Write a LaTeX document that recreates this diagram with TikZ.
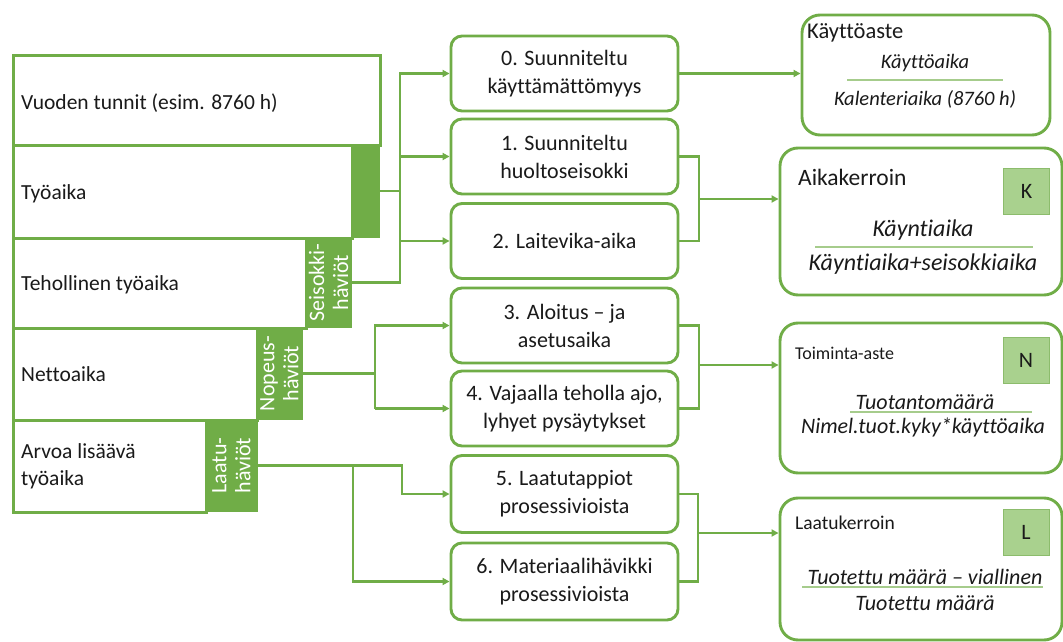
\documentclass[tikz,border=0pt]{standalone}
\usepackage{fontspec}
\setmainfont{Carlito}[Ligatures={TeX,NoCommon}]
\usetikzlibrary{arrows.meta}
\definecolor{lgreen}{HTML}{70AD47}
\definecolor{pgreen}{HTML}{A9D18E}
\definecolor{pgreenline}{HTML}{8CBC6C}
\definecolor{fracgreen}{HTML}{A6CC8C}
\definecolor{txt}{HTML}{1A1A1A}

\begin{document}
\begin{tikzpicture}[x=1pt,y=-1pt,
  wire/.style={draw=lgreen, line width=2.9pt, line join=miter},
  arr/.style={wire, -{Triangle[length=7pt,width=7pt]}},
  lbox/.style={draw=lgreen, line width=2.9pt, fill=white, anchor=north west, inner sep=0pt},
  blk/.style={fill=lgreen, draw=lgreen, line width=1pt, anchor=north west, inner sep=0pt},
  ltext/.style={anchor=west, align=left, text=txt, inner sep=0pt, font=\fontsize{21.5}{27}\selectfont},
  rot/.style={rotate=90, align=center, text=white, inner sep=0pt, font=\fontsize{22}{24}\selectfont},
  mbox/.style={draw=lgreen, line width=2.9pt, fill=white, rounded corners=11pt,
    minimum width=227pt, minimum height=75pt, align=center, text=txt, inner sep=0pt,
    font=\fontsize{22}{28}\selectfont},
  rbox/.style={draw=lgreen, line width=2.9pt, fill=white, rounded corners=18pt, inner sep=0pt},
  rtitle/.style={anchor=west, text=txt, inner sep=0pt},
  frac/.style={text=txt, inner sep=0pt, font=\itshape\fontsize{22}{26}\selectfont},
  fracline/.style={draw=fracgreen, line width=1.3pt},
  sq/.style={fill=pgreen, draw=pgreenline, line width=1pt, minimum width=46pt, minimum height=46pt,
    text=txt, inner sep=0pt, font=\fontsize{22}{26}\selectfont}
]
\useasboundingbox (0,0) rectangle (1063,642);
\fill[white] (0,0) rectangle (1063,642);

% ---- time stack on the left ----
\node[lbox, minimum width=367pt, minimum height=90pt] (b1) at (12,54) {};
\node[lbox, minimum width=339pt, minimum height=93pt] (b2) at (12,144) {};
\node[lbox, minimum width=293pt, minimum height=90pt] (b3) at (12,237) {};
\node[lbox, minimum width=244pt, minimum height=92pt] (b4) at (12,327) {};
\node[lbox, minimum width=193pt, minimum height=92pt] (b5) at (12,419) {};

\node[blk, minimum width=28pt, minimum height=93pt] (k2) at (351,144) {};
\node[blk, minimum width=46pt, minimum height=90pt] (k3) at (305,237) {};
\node[blk, minimum width=46pt, minimum height=92pt] (k4) at (256,327) {};
\node[blk, minimum width=52pt, minimum height=92pt] (k5) at (205,419) {};

\node[ltext] (t1) at ([xshift=9pt,yshift=-3pt]b1.west) {Vuoden tunnit (esim. 8760 h)};
\node[ltext] (t2) at ([xshift=9pt,yshift=-2pt]b2.west) {Työaika};
\node[ltext] (t3) at ([xshift=9pt,yshift=-1pt]b3.west) {Tehollinen työaika};
\node[ltext] (t4) at ([xshift=9pt]b4.west) {Nettoaika};
\node[ltext] (t5) at ([xshift=9pt]b5.west) {Arvoa lisäävä\\työaika};

\node[rot] (s3) at (k3.center) {Seisokki-\\häviöt};
\node[rot] (s4) at (k4.center) {Nopeus-\\häviöt};
\node[rot] (s5) at (k5.center) {Laatu-\\häviöt};

% ---- loss categories ----
\node[mbox] (m0) at (564.5,73.5) {0. Suunniteltu\\käyttämättömyys};
\node[mbox] (m1) at (564.5,156.5) {1. Suunniteltu\\huoltoseisokki};
\node[mbox] (m2) at (564.5,241) {2. Laitevika-aika};
\node[mbox] (m3) at (564.5,325.5) {3. Aloitus – ja\\asetusaika};
\node[mbox] (m4) at (564.5,408.5) {4. Vajaalla teholla ajo,\\lyhyet pysäytykset};
\node[mbox, minimum height=77pt] (m5) at (564.5,494) {5. Laatutappiot\\prosessivioista};
\node[mbox, minimum height=77pt] (m6) at (564.5,581.5) {6. Materiaalihävikki\\prosessivioista};

% ---- key figures ----
\node[rbox, minimum width=248pt, minimum height=120pt] (r0) at (926,75) {};
\node[rbox, minimum width=282pt, minimum height=147pt] (r1) at (921,221.5) {};
\node[rbox, minimum width=282pt, minimum height=150pt] (r2) at (921,398) {};
\node[rbox, minimum width=282pt, minimum height=142pt] (r3) at (921,569) {};

\node[rtitle, font=\fontsize{22.5}{26}\selectfont] (r0t) at (807,33) {Käyttöaste};
\node[frac, font=\itshape\fontsize{20.5}{24}\selectfont] (r0n) at (925,63) {Käyttöaika};
\node[frac, font=\itshape\fontsize{20.5}{24}\selectfont] (r0d) at (925,99) {Kalenteriaika (8760 h)};
\draw[fracline] (847,80) -- (1003,80);

\node[rtitle, font=\fontsize{23.5}{26}\selectfont] (r1t) at (798,177) {Aikakerroin};
\node[sq] (sK) at (1026.5,191) {K};
\node[frac, font=\itshape\fontsize{24}{28}\selectfont] (r1n) at (923,230) {Käyntiaika};
\node[frac, font=\itshape\fontsize{24}{28}\selectfont] (r1d) at (923,264) {Käyntiaika+seisokkiaika};
\draw[fracline] (815,247) -- (1033,247);

\node[rtitle, font=\fontsize{18}{24}\selectfont] (r2t) at (795,353) {Toiminta-aste};
\node[sq] (sN) at (1026,360) {N};
\node[frac] (r2n) at (925,402) {Tuotantomäärä};
\node[frac] (r2d) at (923,427) {Nimel.tuot.kyky*käyttöaika};
\draw[fracline] (850,412) -- (1032,412);

\node[rtitle, font=\fontsize{19.5}{24}\selectfont] (r3t) at (795,523) {Laatukerroin};
\node[sq] (sL) at (1026,532) {L};
\node[frac] (r3n) at (925,577) {Tuotettu määrä – viallinen};
\node[frac] (r3d) at (925,603) {Tuotettu määrä};
\draw[fracline] (802,587) -- (1043,587);

% ---- connectors, left side ----
\coordinate (tA) at (400,73);
\coordinate (tB) at (375,325);
\coordinate (tC) at (402,465);
\coordinate (tD) at (353,465);

\draw[arr] (k3.east) -- (k3.east -| tA) -- (m0.west -| tA) -- (m0.west);
\draw[wire] (k2.east) -- (k2.east -| tA);
\draw[arr] (m1.west -| tA) -- (m1.west);
\draw[arr] (m2.west -| tA) -- (m2.west);

\draw[arr] (m4.west -| tB) -- (m3.west -| tB) -- (m3.west);
\draw[wire] (k4.east) -- (k4.east -| tB);
\draw[arr] (m4.west -| tB) -- (m4.west);

\draw[arr] (k5.east) -- (k5.east -| tC) |- (m5.west);
\draw[arr] (k5.east -| tD) |- (m6.west);

% ---- connectors, right side ----
\coordinate (uA) at (699,199);
\coordinate (uB) at (699,365);
\coordinate (uC) at (698,533);

\draw[arr] (m0.east) -- (m0.east -| r0.west);
\draw[wire] (m1.east) -- (m1.east -| uA) -- (m2.east -| uA) -- (m2.east);
\draw[arr] (uA) -- (uA -| r1.west);
\draw[wire] (m3.east) -- (m3.east -| uB) -- (m4.east -| uB) -- (m4.east);
\draw[arr] (uB) -- (uB -| r2.west);
\draw[wire] (m5.east) -- (m5.east -| uC) -- (m6.east -| uC) -- (m6.east);
\draw[arr] (uC) -- (uC -| r3.west);
\end{tikzpicture}
\end{document}
